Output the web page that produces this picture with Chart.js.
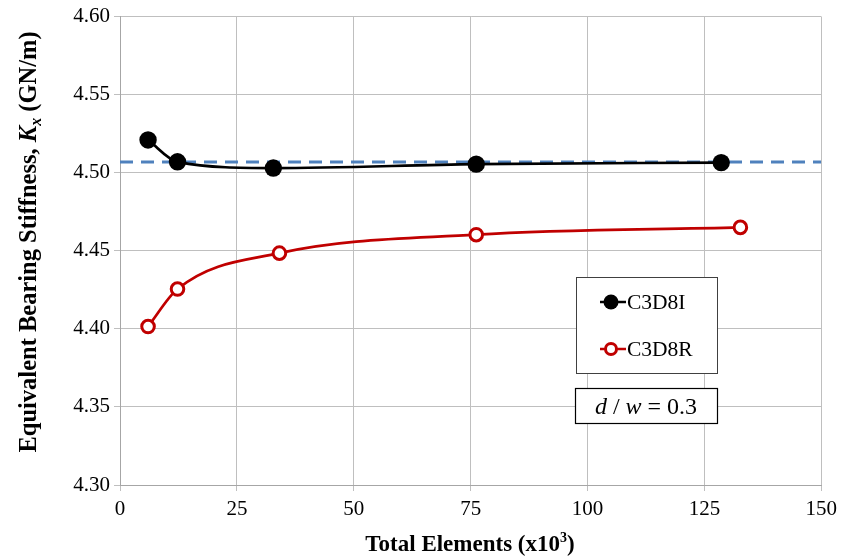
<!DOCTYPE html>
<html>
<head>
<meta charset="utf-8">
<script src="https://cdn.jsdelivr.net/npm/chart.js@4.4.1/dist/chart.umd.min.js"></script>
<style>
  html, body { margin: 0; padding: 0; background: #fff; }
  #wrap { width: 843px; height: 558px; position: relative; }
</style>
</head>
<body>
<div id="wrap"><canvas id="c" width="843" height="558"></canvas></div>
<script>
// Mesh convergence: total elements (thousands) vs. equivalent bearing stiffness (GN/m)
const elemsC3D8I = [6.0, 12.3, 32.8, 76.2, 128.6];
const kxC3D8I    = [4.521, 4.507, 4.503, 4.5055, 4.5065];
const elemsC3D8R = [6.0, 12.3, 34.1, 76.2, 132.7];
const kxC3D8R    = [4.4015, 4.4255, 4.4485, 4.4603, 4.4650];
const refX       = [0, 150];
const refKx      = [4.5068, 4.5068];
const xTicks     = [0, 25, 50, 75, 100, 125, 150];
const yTicks     = [4.30, 4.35, 4.40, 4.45, 4.50, 4.55, 4.60];
const seriesNames = ['C3D8I', 'C3D8R'];
const ratioLabel = { d: 'd', w: 'w', value: '0.3' };

const SERIF = '"Liberation Serif", "Times New Roman", serif';

const toPts = (xs, ys) => xs.map((x, i) => ({ x, y: ys[i] }));

// draws a run of styled text segments, returns total width
function drawRuns(ctx, runs, x, y, measureOnly) {
  let cx = x;
  for (const r of runs) {
    ctx.font = r.font;
    const w = ctx.measureText(r.text).width;
    if (!measureOnly) ctx.fillText(r.text, cx, y + (r.dy || 0));
    cx += w;
  }
  return cx - x;
}

const annotations = {
  id: 'annotations',
  afterDraw(chart) {
    const ctx = chart.ctx;
    ctx.save();
    ctx.fillStyle = '#000';
    ctx.textBaseline = 'alphabetic';

    // x-axis title
    const xRuns = [
      { text: 'Total Elements (x10', font: `bold 23px ${SERIF}` },
      { text: '3', font: `bold 14px ${SERIF}`, dy: -9 },
      { text: ')', font: `bold 23px ${SERIF}` }
    ];
    let w = drawRuns(ctx, xRuns, 0, 0, true);
    drawRuns(ctx, xRuns, 470 - w / 2, 551);

    // y-axis title (rotated)
    const yRuns = [
      { text: 'Equivalent Bearing Stiffness, ', font: `bold 24.5px ${SERIF}` },
      { text: 'K', font: `bold italic 24.5px ${SERIF}` },
      { text: 'x', font: `bold italic 16px ${SERIF}`, dy: 5 },
      { text: ' (GN/m)', font: `bold 24.5px ${SERIF}` }
    ];
    w = drawRuns(ctx, yRuns, 0, 0, true);
    ctx.save();
    ctx.translate(36, 242);
    ctx.rotate(-Math.PI / 2);
    drawRuns(ctx, yRuns, -w / 2, 0);
    ctx.restore();

    // legend box
    ctx.fillStyle = '#fff';
    ctx.fillRect(576, 277, 141, 96);
    ctx.strokeStyle = '#404040';
    ctx.lineWidth = 1;
    ctx.strokeRect(576.5, 277.5, 141, 96);
    const items = [
      { name: seriesNames[0], color: '#000', filled: true, y: 302 },
      { name: seriesNames[1], color: '#C00000', filled: false, y: 349 }
    ];
    for (const it of items) {
      ctx.strokeStyle = it.color;
      ctx.lineWidth = 2.5;
      ctx.beginPath();
      ctx.moveTo(600, it.y);
      ctx.lineTo(626, it.y);
      ctx.stroke();
      ctx.beginPath();
      if (it.filled) {
        ctx.arc(611, it.y, 7.5, 0, Math.PI * 2);
        ctx.fillStyle = it.color;
        ctx.fill();
      } else {
        ctx.lineWidth = 3;
        ctx.arc(611, it.y, 5.5, 0, Math.PI * 2);
        ctx.fillStyle = '#fff';
        ctx.fill();
        ctx.stroke();
      }
      ctx.fillStyle = '#000';
      ctx.font = `21.5px ${SERIF}`;
      ctx.textBaseline = 'middle';
      ctx.fillText(it.name, 627, it.y + 1);
    }

    // d / w label box
    ctx.fillStyle = '#fff';
    ctx.fillRect(575, 388, 142, 35);
    ctx.strokeStyle = '#000';
    ctx.lineWidth = 1.2;
    ctx.strokeRect(575.5, 388.5, 142, 35);
    ctx.fillStyle = '#000';
    ctx.textBaseline = 'alphabetic';
    const rRuns = [
      { text: ratioLabel.d, font: `italic 24px ${SERIF}` },
      { text: ' / ', font: `24px ${SERIF}` },
      { text: ratioLabel.w, font: `italic 24px ${SERIF}` },
      { text: ' = ' + ratioLabel.value, font: `24px ${SERIF}` }
    ];
    w = drawRuns(ctx, rRuns, 0, 0, true);
    drawRuns(ctx, rRuns, 646 - w / 2, 414);
    ctx.restore();
  }
};

new Chart(document.getElementById('c'), {
  type: 'line',
  data: {
    datasets: [
      {
        label: 'reference',
        data: toPts(refX, refKx),
        borderColor: '#4F81BD',
        borderWidth: 3,
        borderDash: [13, 8],
        pointRadius: 0,
        tension: 0,
        order: 3
      },
      {
        label: seriesNames[0],
        data: toPts(elemsC3D8I, kxC3D8I),
        borderColor: '#000',
        backgroundColor: '#000',
        borderWidth: 2.7,
        pointRadius: 8.7,
        pointBorderWidth: 0,
        pointBackgroundColor: '#000',
        tension: 0.4,
        cubicInterpolationMode: 'monotone',
        order: 1
      },
      {
        label: seriesNames[1],
        data: toPts(elemsC3D8R, kxC3D8R),
        borderColor: '#C00000',
        backgroundColor: '#fff',
        borderWidth: 2.7,
        pointRadius: 6.3,
        pointBorderWidth: 3,
        pointBackgroundColor: '#fff',
        pointBorderColor: '#C00000',
        tension: 0.4,
        cubicInterpolationMode: 'monotone',
        order: 2
      }
    ]
  },
  options: {
    responsive: false,
    animation: false,
    layout: { padding: { top: 14, right: 21, left: 0, bottom: 0 } },
    plugins: {
      legend: { display: false },
      tooltip: { enabled: false }
    },
    scales: {
      x: {
        type: 'linear',
        min: 0, max: 150,
        afterBuildTicks: s => { s.ticks = xTicks.map(v => ({ value: v })); },
        afterFit: s => { s.height = 73; },
        grid: { color: '#BFBFBF', lineWidth: 1, tickLength: 6, tickColor: '#BFBFBF' },
        border: { color: '#A6A6A6' },
        ticks: {
          color: '#000',
          font: { family: SERIF, size: 21 },
          padding: 6,
          maxRotation: 0,
          callback: v => String(v)
        }
      },
      y: {
        type: 'linear',
        min: 4.30, max: 4.60,
        afterBuildTicks: s => { s.ticks = yTicks.map(v => ({ value: v })); },
        afterFit: s => { s.width = 120; },
        grid: { color: '#BFBFBF', lineWidth: 1, tickLength: 6, tickColor: '#BFBFBF' },
        border: { color: '#A6A6A6' },
        ticks: {
          color: '#000',
          font: { family: SERIF, size: 21 },
          padding: 4,
          callback: v => Number(v).toFixed(2)
        }
      }
    }
  },
  plugins: [annotations]
});
</script>
</body>
</html>
